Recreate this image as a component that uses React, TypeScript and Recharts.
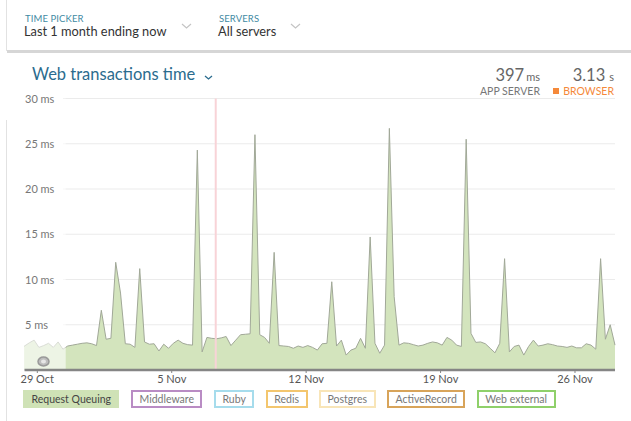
import React from "react";
import { AreaChart, Area, XAxis, YAxis, CartesianGrid, ReferenceLine, ReferenceArea } from "recharts";

// 6-hour buckets, last month
const START = Date.UTC(2017, 9, 28, 8);
const STEP = 6 * 3600 * 1000;

const requestQueuingMs = [
  2.65, 3.0, 3.3, 2.5, 2.7, 2.95, 2.5, 3.1, 2.3, 2.65,
  2.75, 2.85, 2.95, 3.0, 2.9, 2.7, 6.6, 3.4, 3.5, 11.9,
  8.5, 2.9, 2.85, 2.5, 11.2, 3.1, 2.85, 2.9, 2.1, 2.85,
  2.4, 2.95, 3.3, 2.95, 2.8, 2.75, 24.3, 2.0, 3.6, 3.5,
  3.45, 3.55, 3.7, 2.7, 3.3, 3.9, 3.95, 4.0, 26.0, 3.9,
  3.6, 2.95, 13.0, 2.7, 2.65, 2.6, 2.4, 2.65, 2.5, 2.7,
  2.5, 2.2, 2.9, 2.95, 9.75, 2.65, 3.3, 1.65, 2.2, 2.4,
  3.5, 2.4, 14.7, 2.95, 1.85, 2.75, 26.7, 8.1, 2.75, 3.0,
  2.95, 2.8, 2.65, 2.75, 2.95, 3.1, 3.0, 2.75, 3.6, 3.3,
  2.75, 2.6, 25.5, 4.05, 3.05, 3.1, 2.9, 2.4, 1.9, 2.95,
  12.3, 2.0, 2.6, 2.75, 1.65, 2.6, 3.3, 2.65, 2.75, 2.9,
  2.8, 2.65, 2.6, 2.5, 2.65, 2.45, 2.45, 2.9, 2.75, 2.3,
  12.3, 3.4, 5.0, 2.75,
];

const xTicks = [
  Date.UTC(2017, 9, 29),
  Date.UTC(2017, 10, 5),
  Date.UTC(2017, 10, 12),
  Date.UTC(2017, 10, 19),
  Date.UTC(2017, 10, 26),
];
const yTicks = [5, 10, 15, 20, 25, 30];
const MONTHS = ["Jan", "Feb", "Mar", "Apr", "May", "Jun", "Jul", "Aug", "Sep", "Oct", "Nov", "Dec"];

const deployAt = Date.UTC(2017, 10, 7, 7);
const partialEnd = Date.UTC(2017, 9, 30, 11, 30);

const layers = [
  { name: "Request Queuing", color: "#cfe2b6", filled: true },
  { name: "Middleware", color: "#b98cc4" },
  { name: "Ruby", color: "#a6dcec" },
  { name: "Redis", color: "#f3c66e" },
  { name: "Postgres", color: "#f8e5b8" },
  { name: "ActiveRecord", color: "#d8a45a" },
  { name: "Web external", color: "#8fd06a" },
];

const data = requestQueuingMs.map((v, i) => ({ t: START + i * STEP, queuing: v }));
const END = START + (requestQueuingMs.length - 1) * STEP;

const fmtDay = (t: number) => {
  const d = new Date(t);
  return `${d.getUTCDate()} ${MONTHS[d.getUTCMonth()]}`;
};

const FONT = "Lato, 'Open Sans', sans-serif";
const PLOT_LEFT = 24.5;
const GRID_LEFT = 63;

function Chevron({ x, y, color }: { x: number; y: number; color: string }) {
  return (
    <svg style={{ position: "absolute", left: x, top: y }} width={11} height={6}>
      <polyline points="1,1 5.5,5 10,1" fill="none" stroke={color} strokeWidth={1.2} />
    </svg>
  );
}

// y labels sit inside the plot, left aligned
function MsTick(props: any) {
  const { y, payload } = props;
  return (
    <text x={PLOT_LEFT + 0.5} y={y} dy={4} fontSize={11} fill="#777" textAnchor="start" fontFamily={FONT}>
      {`${payload.value} ms`}
    </text>
  );
}

// grid lines start right of the y labels
function GridRow(props: any) {
  return <line x1={GRID_LEFT} x2={props.x2} y1={props.y1} y2={props.y2} stroke="#ebebeb" strokeWidth={1} />;
}

export default function App() {
  return (
    <div style={{ position: "absolute", left: 0, top: 0, width: 631, height: 421, background: "#fff", fontFamily: FONT, overflow: "hidden" }}>
      <div style={{ position: "absolute", left: 0, top: 0 }}>
        <AreaChart width={631} height={421} data={data} margin={{ top: 98.5, right: 16, bottom: 31, left: PLOT_LEFT }}>
          <CartesianGrid vertical={false} horizontal={GridRow} />
          <XAxis
            dataKey="t"
            type="number"
            domain={[START, END]}
            ticks={xTicks}
            tickFormatter={fmtDay}
            height={20}
            axisLine={{ stroke: "#858585", strokeWidth: 2.5 }}
            tickLine={{ stroke: "#858585" }}
            tickSize={3}
            tick={{ fontSize: 11, fill: "#555" }}
            interval={0}
          />
          <YAxis
            type="number"
            domain={[0, 30]}
            ticks={yTicks}
            mirror
            width={40}
            axisLine={false}
            tickLine={false}
            tickSize={0}
            tick={<MsTick />}
            interval={0}
          />
          <Area
            type="linear"
            dataKey="queuing"
            stroke="#a1a898"
            strokeWidth={1}
            fill="#d3e4bd"
            fillOpacity={1}
            isAnimationActive={false}
            dot={false}
            activeDot={false}
          />
          <ReferenceArea x1={START} x2={partialEnd} y1={0} y2={30} fill="#ffffff" fillOpacity={0.6} stroke="none" />
          <ReferenceLine x={deployAt} stroke="#f8d3d7" strokeWidth={2} />
        </AreaChart>
      </div>

      {/* page chrome */}
      <div style={{ position: "absolute", left: 6, top: 0, width: 1, height: 51, background: "#e2e2e2" }} />
      <div style={{ position: "absolute", left: 6, top: 120, width: 1, height: 301, background: "#e2e2e2" }} />
      <div style={{ position: "absolute", left: 7, top: 50, width: 624, height: 3, background: "#d6d6d6" }} />

      <div style={{ position: "absolute", left: 25, top: 13, fontSize: 9.5, color: "#3f8aa3", letterSpacing: 0.1 }}>TIME PICKER</div>
      <div style={{ position: "absolute", left: 24, top: 23, fontSize: 12.8, color: "#333" }}>Last 1 month ending now</div>
      <Chevron x={181} y={23} color="#c4c4c4" />
      <div style={{ position: "absolute", left: 219, top: 13, fontSize: 9.5, color: "#3f8aa3", letterSpacing: 0.1 }}>SERVERS</div>
      <div style={{ position: "absolute", left: 218, top: 23, fontSize: 12.8, color: "#333" }}>All servers</div>
      <Chevron x={290} y={23} color="#c4c4c4" />

      <div style={{ position: "absolute", left: 32, top: 64, fontSize: 16.5, color: "#2b6c8e" }}>Web transactions time</div>
      <svg style={{ position: "absolute", left: 204, top: 75 }} width={9} height={5}>
        <polyline points="1,1 4.5,4 8,1" fill="none" stroke="#2b6c8e" strokeWidth={1.3} />
      </svg>

      <div style={{ position: "absolute", right: 91, top: 67, lineHeight: "16px", color: "#666", whiteSpace: "nowrap" }}>
        <span style={{ fontSize: 16.5 }}>397</span>
        <span style={{ fontSize: 11, marginLeft: 2 }}>ms</span>
      </div>
      <div style={{ position: "absolute", right: 91, top: 84.5, lineHeight: "12px", fontSize: 10.5, color: "#777", whiteSpace: "nowrap" }}>
        APP SERVER
      </div>
      <div style={{ position: "absolute", right: 17, top: 67, lineHeight: "16px", color: "#666", whiteSpace: "nowrap" }}>
        <span style={{ fontSize: 16.5 }}>3.13</span>
        <span style={{ fontSize: 11, marginLeft: 4 }}>s</span>
      </div>
      <div style={{ position: "absolute", right: 17, top: 84.5, lineHeight: "12px", fontSize: 10.5, color: "#f5893a", whiteSpace: "nowrap" }}>
        <span style={{ display: "inline-block", width: 6, height: 6, background: "#f5893a", marginRight: 4, verticalAlign: 1 }} />
        BROWSER
      </div>

      {/* partial-data marker */}
      <svg style={{ position: "absolute", left: 37, top: 356 }} width={13} height={11}>
        <ellipse cx={6.5} cy={5.5} rx={5.5} ry={4.5} fill="#bdbdbd" stroke="#999" strokeWidth={1.5} />
        <ellipse cx={6.5} cy={5.5} rx={2.5} ry={2} fill="#e6e6e6" />
      </svg>

      <div style={{ position: "absolute", left: 23, top: 390, display: "flex", gap: 11.5 }}>
        {layers.map((l) => (
          <div
            key={l.name}
            style={{
              border: `2px solid ${l.color}`,
              background: l.filled ? l.color : "#fff",
              padding: "0 6.5px",
              height: 14,
              lineHeight: "14px",
              fontSize: 10.5,
              color: l.filled ? "#444" : "#777",
              whiteSpace: "nowrap",
            }}
          >
            {l.name}
          </div>
        ))}
      </div>
    </div>
  );
}
